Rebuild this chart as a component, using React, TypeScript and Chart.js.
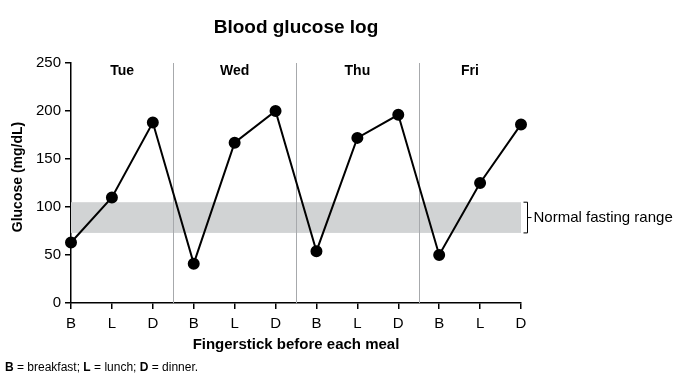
import React, { useEffect, useRef } from "react";
import { Chart, registerables } from "chart.js";

Chart.register(...registerables);

const mealLabels: string[] = ["B", "L", "D", "B", "L", "D", "B", "L", "D", "B", "L", "D"];
const dayLabels: string[] = ["Tue", "Wed", "Thu", "Fri"];
const glucoseValues: number[] = [63, 110, 188, 41, 167, 200, 54, 172, 196, 50, 125, 186];
const normalRange: number[] = [73, 105];
const yTicks: number[] = [0, 50, 100, 150, 200, 250];

const FONT = "'Liberation Sans', Arial, Helvetica, sans-serif";

const decorPlugin = {
  id: "decor",
  beforeDatasetsDraw(chart: any) {
    const { ctx, chartArea, scales } = chart;
    const x = scales.x;
    const y = scales.y;
    ctx.save();
    const yTop = y.getPixelForValue(normalRange[1]);
    const yBot = y.getPixelForValue(normalRange[0]);
    ctx.fillStyle = "#d1d3d4";
    ctx.fillRect(chartArea.left, yTop, chartArea.right - chartArea.left, yBot - yTop);
    ctx.strokeStyle = "#a7a9ac";
    ctx.lineWidth = 1;
    for (let d = 1; d < dayLabels.length; d++) {
      const i = d * 3 - 1;
      const px = Math.round((x.getPixelForValue(i) + x.getPixelForValue(i + 1)) / 2) + 0.5;
      ctx.beginPath();
      ctx.moveTo(px, chartArea.top);
      ctx.lineTo(px, chartArea.bottom);
      ctx.stroke();
    }
    ctx.restore();
  },
  afterDraw(chart: any) {
    const { ctx, chartArea, scales } = chart;
    const x = scales.x;
    const y = scales.y;
    ctx.save();
    ctx.fillStyle = "#000";
    ctx.textBaseline = "middle";
    ctx.textAlign = "center";
    ctx.font = `bold 19px ${FONT}`;
    const cx = (chartArea.left + chartArea.right) / 2;
    ctx.fillText("Blood glucose log", cx, 28);
    ctx.font = `bold 14px ${FONT}`;
    for (let d = 0; d < dayLabels.length; d++) {
      const start = d === 0 ? chartArea.left : (x.getPixelForValue(d * 3 - 1) + x.getPixelForValue(d * 3)) / 2;
      const end = d === dayLabels.length - 1 ? chartArea.right : (x.getPixelForValue(d * 3 + 2) + x.getPixelForValue(d * 3 + 3)) / 2;
      ctx.fillText(dayLabels[d], (start + end) / 2, chartArea.top + 8);
    }
    ctx.font = `bold 15px ${FONT}`;
    ctx.fillText("Fingerstick before each meal", cx, 345);
    ctx.save();
    ctx.font = `bold 14px ${FONT}`;
    ctx.translate(18, 177);
    ctx.rotate(-Math.PI / 2);
    ctx.fillText("Glucose (mg/dL)", 0, 0);
    ctx.restore();
    const yTop = y.getPixelForValue(normalRange[1]);
    const yBot = y.getPixelForValue(normalRange[0]);
    const yMid = (yTop + yBot) / 2;
    const bx = chartArea.right + 6.5;
    ctx.strokeStyle = "#000";
    ctx.lineWidth = 1;
    ctx.beginPath();
    ctx.moveTo(bx - 4, yTop);
    ctx.lineTo(bx, yTop);
    ctx.lineTo(bx, yBot);
    ctx.lineTo(bx - 4, yBot);
    ctx.moveTo(bx, yMid);
    ctx.lineTo(bx + 4, yMid);
    ctx.stroke();
    ctx.textAlign = "left";
    ctx.font = `15px ${FONT}`;
    ctx.fillText("Normal fasting range", bx + 6, yMid);
    const parts: [string, boolean][] = [
      ["B", true], [" = breakfast; ", false], ["L", true], [" = lunch; ", false], ["D", true], [" = dinner.", false],
    ];
    let fx = 5;
    for (const [t, b] of parts) {
      ctx.font = `${b ? "bold " : ""}12px ${FONT}`;
      ctx.fillText(t, fx, 368);
      fx += ctx.measureText(t).width;
    }
    ctx.restore();
  },
};

export default function App() {
  const ref = useRef<HTMLCanvasElement>(null);
  useEffect(() => {
    document.body.style.margin = "0";
    const canvas = ref.current!;
    const chart = new Chart(canvas, {
      type: "line",
      data: {
        labels: mealLabels,
        datasets: [
          {
            data: glucoseValues,
            borderColor: "#000",
            backgroundColor: "#000",
            borderWidth: 2,
            pointRadius: 5,
            pointBackgroundColor: "#000",
            pointBorderColor: "#000",
            tension: 0,
            clip: false as any,
          },
        ],
      },
      options: {
        responsive: false,
        animation: false,
        devicePixelRatio: 1,
        layout: { padding: { top: 63, right: 162, left: 0, bottom: 0 } },
        plugins: { legend: { display: false }, tooltip: { enabled: false }, title: { display: false } },
        scales: {
          x: {
            type: "category",
            offset: false,
            grid: { display: true, drawOnChartArea: false, drawTicks: true, tickLength: 6, color: "#000", lineWidth: 1.5 },
            border: { display: true, color: "#000", width: 1.5 },
            ticks: { color: "#000", font: { family: FONT, size: 15 }, padding: 6, maxRotation: 0, autoSkip: false },
            afterFit: (s: any) => { s.height = 75; },
          },
          y: {
            min: yTicks[0],
            max: yTicks[yTicks.length - 1],
            afterBuildTicks: (s: any) => { s.ticks = yTicks.map((v) => ({ value: v })); },
            grid: { display: true, drawOnChartArea: false, drawTicks: true, tickLength: 6, color: "#000", lineWidth: 1.5 },
            border: { display: true, color: "#000", width: 1.5 },
            ticks: { color: "#000", font: { family: FONT, size: 15 }, padding: 4 },
            afterFit: (s: any) => { s.width = 71; },
          },
        },
      },
      plugins: [decorPlugin],
    });
    return () => chart.destroy();
  }, []);
  return <canvas ref={ref} width={683} height={378} style={{ display: "block", width: 683, height: 378 }} />;
}
